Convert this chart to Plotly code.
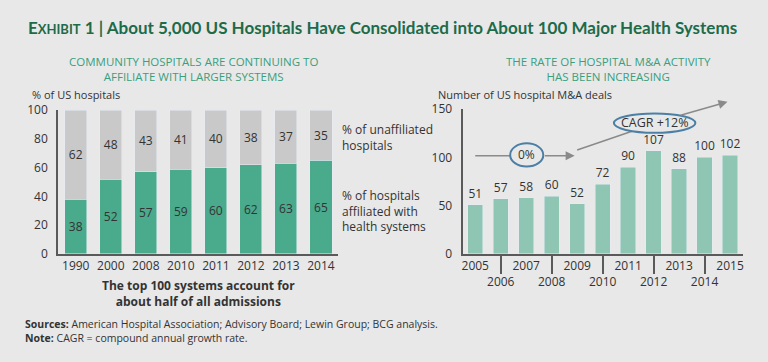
import plotly.graph_objects as go

# ---- data ----
left_years = ["1990", "2000", "2008", "2010", "2011", "2012", "2013", "2014"]
affiliated = [38, 52, 57, 59, 60, 62, 63, 65]
unaffiliated = [62, 48, 43, 41, 40, 38, 37, 35]

right_years = [2005, 2006, 2007, 2008, 2009, 2010, 2011, 2012, 2013, 2014, 2015]
deals = [51, 57, 58, 60, 52, 72, 90, 107, 88, 100, 102]

left_yticks = [0, 20, 40, 60, 80, 100]
right_yticks = [0, 50, 100, 150]

BG = "#e8e8e8"
GREEN = "#4aaa8c"
GREY = "#c9c9c9"
LIGHT = "#8fc6b3"
TXT = "#333333"
TITLE = "#1e6b4a"
SUB = "#3a9f7e"
AX = "#5a5a5a"
ELL = "#4b7fa5"
ARR = "#8a8a8a"
FONT = "Open Sans"
TFONT = "Lato"

fig = go.Figure()

fig.add_trace(go.Bar(x=left_years, y=affiliated, marker_color=GREEN, width=0.63,
                     text=affiliated, textposition="inside", insidetextanchor="middle",
                     textfont=dict(color=TXT, size=12, family=FONT), xaxis="x", yaxis="y",
                     hoverinfo="skip"))
fig.add_trace(go.Bar(x=left_years, y=unaffiliated, marker_color=GREY, width=0.63,
                     text=unaffiliated, textposition="inside", insidetextanchor="middle",
                     textfont=dict(color=TXT, size=12, family=FONT), xaxis="x", yaxis="y",
                     hoverinfo="skip"))
fig.add_trace(go.Bar(x=right_years, y=deals, marker_color=LIGHT, width=0.6,
                     text=deals, textposition="outside", cliponaxis=False,
                     textfont=dict(color=TXT, size=12, family=FONT), xaxis="x2", yaxis="y2",
                     hoverinfo="skip"))

right_ticktext = [str(y) if i % 2 == 0 else "<br>" + str(y) for i, y in enumerate(right_years)]
even_years = [y for i, y in enumerate(right_years) if i % 2 == 1]

tickfont = dict(size=12, color=TXT, family=FONT)
fig.update_layout(
    width=768, height=362,
    margin=dict(l=0, r=0, t=0, b=0),
    paper_bgcolor=BG, plot_bgcolor=BG,
    barmode="stack", showlegend=False,
    font=dict(family=FONT, color=TXT, size=12),
    uniformtext=dict(mode="show", minsize=12),
    xaxis=dict(domain=[0.0747, 0.4406], type="category", showline=True, linecolor=AX,
               linewidth=2, ticks="", showgrid=False, tickfont=tickfont,
               range=[-0.5, 7.5], fixedrange=True, tickangle=0),
    yaxis=dict(domain=[0.290, 0.7072], range=[0, 100], tickvals=left_yticks, showline=True,
               linecolor=AX, linewidth=2, ticks="", showgrid=False, zeroline=False,
               tickfont=tickfont, ticklabelstandoff=6),
    xaxis2=dict(domain=[0.6025, 0.9684], anchor="y2", range=[2004.5, 2015.5],
                tickvals=right_years, ticktext=right_ticktext, showline=True, linecolor=AX,
                linewidth=2, ticks="", showgrid=False, tickfont=tickfont, tickangle=0,
                minor=dict(tickvals=even_years, ticks="outside", ticklen=18, tickwidth=1.5,
                           tickcolor=AX)),
    yaxis2=dict(domain=[0.290, 0.7099], anchor="x2", range=[0, 150], tickvals=right_yticks,
                showline=True, linecolor=AX, linewidth=2, ticks="", showgrid=False,
                zeroline=False, tickfont=tickfont, ticklabelstandoff=6),
)

# trend lines (under the ellipses), then ellipses, then arrow heads
fig.add_shape(type="line", xref="x2", yref="y2", x0=2005.0, y0=101.6, x1=2007.0, y1=101.6,
              line=dict(color=ARR, width=1.5), layer="above")
fig.add_shape(type="line", xref="x2", yref="y2", x0=2009.0, y0=107.6, x1=2012.04, y1=135.0,
              line=dict(color=ARR, width=1.5), layer="above")
fig.add_shape(type="circle", xref="x2", yref="y2", x0=2006.37, x1=2007.67, y0=90.5, y1=114.5,
              line=dict(color=ELL, width=2), fillcolor=BG, layer="above")
fig.add_shape(type="circle", xref="x2", yref="y2", x0=2010.44, x1=2013.64, y0=125.5, y1=145.5,
              line=dict(color=ELL, width=2), fillcolor=BG, layer="above")

arrow = dict(showarrow=True, arrowhead=2, arrowsize=1.2, arrowwidth=1.5, arrowcolor=ARR,
             xref="x2", yref="y2", axref="x2", ayref="y2", text="")
fig.add_annotation(x=2008.9, y=101.6, ax=2007.67, ay=101.6, **arrow)
fig.add_annotation(x=2014.9, y=157.5, ax=2013.0, ay=143.2, **arrow)
fig.add_annotation(x=2007.02, y=102.5, xref="x2", yref="y2", text="0%", showarrow=False,
                   font=dict(size=12, color=TXT, family=FONT))
fig.add_annotation(x=2012.04, y=136.5, xref="x2", yref="y2", text="CAGR +12%", showarrow=False,
                   font=dict(size=12.5, color=TXT, family=FONT))

def txt(x, y, s, size=12, color=TXT, xanchor="left", family=FONT):
    fig.add_annotation(x=x / 768, y=1 - y / 362, xref="paper", yref="paper", text=s,
                       showarrow=False, xanchor=xanchor, yanchor="middle",
                       align=xanchor if xanchor != "center" else "center",
                       font=dict(size=size, color=color, family=family))

txt(25, 19, "<b>E<span style='font-size:13px'>XHIBIT</span> 1 | About 5,000 US Hospitals Have Consolidated into About 100 Major Health Systems</b>",
    size=17, color=TITLE, family=TFONT)
txt(193, 62.5, "COMMUNITY HOSPITALS ARE CONTINUING TO<br>AFFILIATE WITH LARGER SYSTEMS",
    size=11.5, color=SUB, xanchor="center")
txt(609, 62.5, "THE RATE OF HOSPITAL M&A ACTIVITY<br>HAS BEEN INCREASING",
    size=11.5, color=SUB, xanchor="center")
txt(29, 90, "% of US hospitals", size=11)
txt(436, 89.5, "Number of US hospital M&A deals", size=11)
txt(340, 134.5, "% of unaffiliated<br>hospitals", size=12)
txt(340, 212, "% of hospitals<br>affiliated with<br>health systems", size=12)
txt(198, 299, "<b>The top 100 systems account for<br>about half of all admissions</b>",
    size=12, xanchor="center")
txt(22, 337.5, "<b>Sources:</b> American Hospital Association; Advisory Board; Lewin Group; BCG analysis.<br><b>Note:</b> CAGR = compound annual growth rate.",
    size=10.5)

fig.write_html("out.html", post_script="document.body.style.margin='0';",
               config={"displayModeBar": False})
